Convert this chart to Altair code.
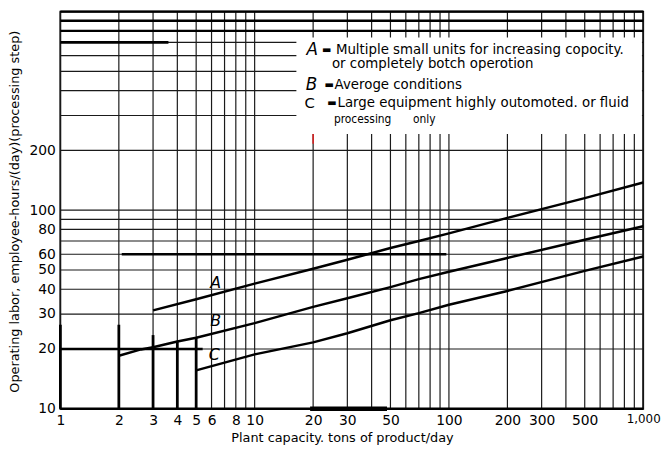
import altair as alt
import pandas as pd

# ---- data ----
x_ticks = [1, 2, 3, 4, 5, 6, 8, 10, 20, 30, 50, 100, 200, 300, 500, 1000]
y_ticks = [10, 20, 30, 40, 50, 60, 80, 100, 200]
x_grid = [1, 2, 3, 4, 5, 6, 7, 8, 9, 10, 20, 30, 40, 50, 60, 70, 80, 90,
          100, 200, 300, 400, 500, 600, 700, 800, 900, 1000]
y_grid = [20, 30, 40, 50, 60, 70, 80, 90, 100, 200, 300, 400, 500, 600, 700]
y_heavy = [800, 900, 1000, 10]

a_x = [3, 5, 10, 20, 30, 50, 70, 100, 200, 500, 1000]
a_y = [31.3, 35.6, 42.7, 50.7, 56.3, 64.5, 70.0, 76.4, 91.5, 115, 138]
b_x = [2, 2.6, 3, 4, 5, 10, 20, 30, 50, 70, 100, 200, 500, 1000]
b_y = [18.5, 19.9, 20.4, 21.8, 22.8, 27.0, 32.6, 36.0, 41.0, 45.0, 49.0, 57.5, 71.0, 83.0]
c_x = [5, 10, 20, 30, 50, 70, 100, 200, 500, 1000]
c_y = [15.6, 18.8, 21.6, 24.0, 27.9, 30.3, 33.4, 39.2, 49.5, 58.5]

curve_label = ["A", "B", "C"]
curve_label_x = [6.3, 6.3, 6.2]
curve_label_y = [42.8, 27.5, 18.6]

hseg_x1 = [1, 2.07, 1]
hseg_x2 = [5.4, 97, 3.6]
hseg_y = [20, 60, 700]
bottom_x1 = [19.3]
bottom_x2 = [48]
bottom_y = [10]
vseg_x = [1, 2, 3, 4, 5]
vseg_y1 = [10, 10, 10, 10, 10]
vseg_y2 = [26.5, 26.5, 23.5, 22.0, 23.0]

box_x1, box_x2, box_y1, box_y2 = [16.4], [985], [242], [742]
red_x, red_y1, red_y2 = [20], [216], [242]

key_letters = ["A", "B"]
key_letters_x = [19.8, 19.6]
key_letters_y = [640, 428]
key_c = ["C"]
key_c_x = [19.2]
key_c_y = [345]
key_dash_x = [23.5, 24.2, 25.0]
key_dash_y = [640, 428, 345]
key_text = ["Multiple small units for increasing copocity.",
            "or completely botch operotion",
            "Averoge conditions",
            "Large equipment highly outomoted. or fluid"]
key_text_x = [26.2, 25.0, 25.8, 26.7]
key_text_y = [640, 545, 428, 345]
key_small = ["processing", "only"]
key_small_x = [25.6, 65.3]
key_small_y = [287, 287]

# ---- chart ----
xs = alt.Scale(type="log", domain=[1, 1000], nice=False)
ys = alt.Scale(type="log", domain=[10, 1000], nice=False)

x_axis = alt.Axis(values=x_ticks, grid=False, domain=False, ticks=False,
                  labelPadding=5, labelColor="black",
                  labelFontSize={"condition": {"test": "datum.value >= 1000", "value": 12}, "value": 14},
                  labelOverlap=False, labelFlush=False,
                  labelExpr="datum.value == 1000 ? '1,000' : datum.value",
                  title="Plant capacity. tons of product/day",
                  titleFontSize=13, titleFontWeight="normal", titleColor="black",
                  titleX=285, titleY=23, titleBaseline="top")
y_axis = alt.Axis(values=y_ticks, grid=False, domain=False, ticks=False,
                  labelPadding=5, labelFontSize=14, labelColor="black",
                  labelOverlap=False,
                  title="Operating labor, employee-hours/(day)(processing step)",
                  titleFontSize=13, titleFontWeight="normal", titleColor="black",
                  titleX=-46, titleY=202, titleBaseline="middle", titleAlign="center")


def X(f):
    return alt.X(f, type="quantitative", scale=xs, axis=x_axis)


def Y(f):
    return alt.Y(f, type="quantitative", scale=ys, axis=y_axis)


vgrid = alt.Chart(pd.DataFrame({"x": x_grid})).mark_rule(
    color="#1a1a1a", strokeWidth=1.2).encode(x=X("x"))
hgrid = alt.Chart(pd.DataFrame({"y": y_grid})).mark_rule(
    color="#1a1a1a", strokeWidth=1.2).encode(y=Y("y"))
heavy = alt.Chart(pd.DataFrame({"y": y_heavy})).mark_rule(
    color="black", strokeWidth=2.4).encode(y=Y("y"))

box = alt.Chart(pd.DataFrame({"x": box_x1, "x2": box_x2, "y": box_y1, "y2": box_y2})).mark_rect(
    color="white").encode(x=X("x"), x2="x2", y=Y("y"), y2="y2")
red = alt.Chart(pd.DataFrame({"x": red_x, "y": red_y1, "y2": red_y2})).mark_rule(
    color="#e02020", strokeWidth=1.5).encode(x=X("x"), y=Y("y"), y2="y2")

hseg = alt.Chart(pd.DataFrame({"x": hseg_x1, "x2": hseg_x2, "y": hseg_y})).mark_rule(
    color="black", strokeWidth=2.6).encode(x=X("x"), x2="x2", y=Y("y"))
bseg = alt.Chart(pd.DataFrame({"x": bottom_x1, "x2": bottom_x2, "y": bottom_y})).mark_rule(
    color="black", strokeWidth=4.5).encode(x=X("x"), x2="x2", y=Y("y"))
vseg = alt.Chart(pd.DataFrame({"x": vseg_x, "y": vseg_y1, "y2": vseg_y2})).mark_rule(
    color="black", strokeWidth=2.8).encode(x=X("x"), y=Y("y"), y2="y2")

curves = pd.concat([
    pd.DataFrame({"x": a_x, "y": a_y, "s": "A"}),
    pd.DataFrame({"x": b_x, "y": b_y, "s": "B"}),
    pd.DataFrame({"x": c_x, "y": c_y, "s": "C"}),
])
lines = alt.Chart(curves).mark_line(color="black", strokeWidth=2.5).encode(
    x=X("x"), y=Y("y"), detail="s:N")

clabels = alt.Chart(pd.DataFrame({"x": curve_label_x, "y": curve_label_y, "t": curve_label})).mark_text(
    fontSize=16, fontStyle="italic", color="black", align="center", baseline="middle").encode(
    x=X("x"), y=Y("y"), text="t:N")

kletters = alt.Chart(pd.DataFrame({"x": key_letters_x, "y": key_letters_y, "t": key_letters})).mark_text(
    fontSize=17, fontStyle="italic", color="black", align="center", baseline="middle").encode(
    x=X("x"), y=Y("y"), text="t:N")
kc = alt.Chart(pd.DataFrame({"x": key_c_x, "y": key_c_y, "t": key_c})).mark_text(
    fontSize=15, color="black", align="center", baseline="middle").encode(
    x=X("x"), y=Y("y"), text="t:N")
kdash = alt.Chart(pd.DataFrame({"x": key_dash_x, "y": key_dash_y})).mark_text(
    fontSize=10, color="black", align="center", baseline="middle", text="▬").encode(
    x=X("x"), y=Y("y"))
ktext = alt.Chart(pd.DataFrame({"x": key_text_x, "y": key_text_y, "t": key_text})).mark_text(
    fontSize=13.5, color="black", align="left", baseline="middle").encode(
    x=X("x"), y=Y("y"), text="t:N")
ksmall = alt.Chart(pd.DataFrame({"x": key_small_x, "y": key_small_y, "t": key_small})).mark_text(
    fontSize=12, font="DejaVu Sans Condensed", color="black", align="left", baseline="middle").encode(
    x=X("x"), y=Y("y"), text="t:N")

chart = alt.layer(
    vgrid, hgrid, box, red, heavy, hseg, bseg, vseg, lines, clabels,
    kletters, kc, kdash, ktext, ksmall
).properties(
    width=590, height=402,
    autosize=alt.AutoSizeParams(type="none"),
    padding={"left": 53, "top": 1, "right": 18, "bottom": 36},
).configure(
    font="DejaVu Sans", background="white"
).configure_view(stroke="black", strokeWidth=1.8)

chart.save("out.html", embed_options={"renderer": "svg", "actions": False})
